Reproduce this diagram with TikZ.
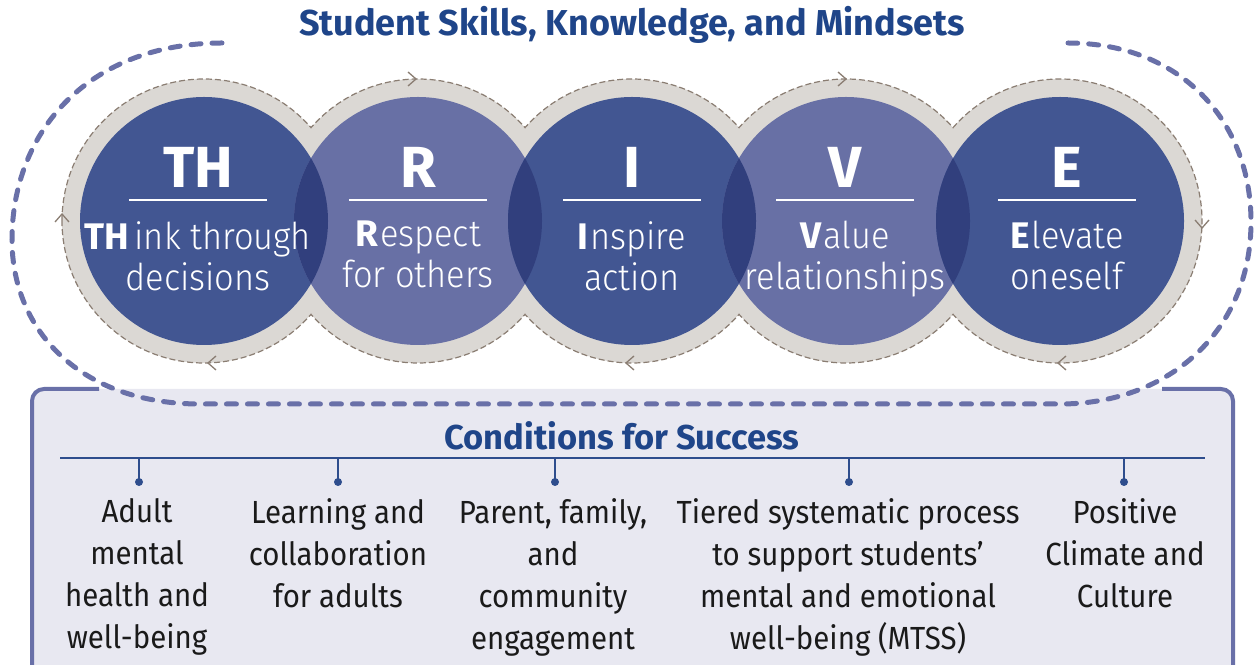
\documentclass[tikz,border=0pt]{standalone}
\usepackage{fontspec}
\setmainfont{Fira Sans}
\newfontfamily\lightf[FakeStretch=0.93]{Fira Sans Light}
\newfontfamily\condf[FakeStretch=0.92]{Fira Sans}
\definecolor{dk}{HTML}{425692}
\definecolor{lt}{HTML}{6870A5}
\definecolor{lensc}{HTML}{313F7D}
\definecolor{ringgray}{HTML}{DBD8D4}
\definecolor{ringdashc}{HTML}{8A7D72}
\definecolor{loopc}{HTML}{6970A8}
\definecolor{boxfillc}{HTML}{E8E8F1}
\definecolor{titlec}{HTML}{1F4589}
\definecolor{hlinec}{HTML}{2E4D8D}
\definecolor{txtc}{HTML}{1A1A1A}
\begin{document}
\begin{tikzpicture}[x=1pt,y=1pt,
  disk/.style={circle, inner sep=0pt, minimum size=248pt},
  ringline/.style={draw=ringdashc, line width=1.2pt, dash pattern=on 6pt off 3pt},
  chev/.style={draw=ringdashc, line width=1.3pt},
  loopline/.style={draw=loopc, line width=5pt, line cap=round, dash pattern=on 10pt off 11pt},
  boxline/.style={draw=loopc, line width=4pt},
  bigl/.style={text=white, font=\fontsize{58}{58}\selectfont\bfseries, inner sep=0pt},
  ctext/.style={text=white, font=\fontsize{37}{41}\lightf, align=center, inner sep=0pt},
  wline/.style={draw=white, line width=1.3pt},
  cond/.style={text=txtc, font=\fontsize{32}{42}\condf, align=center, inner sep=0pt, anchor=north},
  tick/.style={draw=hlinec, line width=1.5pt},
  dotc/.style={fill=hlinec}
]
\useasboundingbox (0,0) rectangle (1255,664);
\clip (0,0) rectangle (1255,664);

% bottom box
\fill[boxfillc, rounded corners=12pt] (32,275) rectangle (1233,-40);
\draw[boxline, rounded corners=12pt] (99,275) -- (32,275) -- (32,-40);
\draw[boxline, rounded corners=12pt] (1162,275) -- (1233,275) -- (1233,-40);

% big dashed loop
\draw[loopline] (222,621) .. controls (90,621) and (12,534) .. (12,424)
  .. controls (12,334) and (80,260) .. (200,260) -- (1060,260)
  .. controls (1170,260) and (1251,334) .. (1251,442)
  .. controls (1251,544) and (1180,621) .. (1068,621);

% gray rings
\foreach \x in {204,418,632,846,1060} \fill[ringgray] (\x,443) circle[radius=142];
\draw[ringline] (62,443) arc[start angle=180,end angle=41.1,radius=142]
  arc[start angle=138.9,end angle=41.1,radius=142]
  arc[start angle=138.9,end angle=41.1,radius=142]
  arc[start angle=138.9,end angle=41.1,radius=142]
  arc[start angle=138.9,end angle=-138.9,radius=142]
  arc[start angle=-41.1,end angle=-138.9,radius=142]
  arc[start angle=-41.1,end angle=-138.9,radius=142]
  arc[start angle=-41.1,end angle=-138.9,radius=142]
  arc[start angle=-41.1,end angle=-180,radius=142] -- cycle;

% chevrons on ring outline
\draw[chev] (408,592) -- (416,585) -- (408,578);
\draw[chev] (838,592) -- (846,585) -- (838,578);
\draw[chev] (216,308) -- (208,301) -- (216,294);
\draw[chev] (634,308) -- (626,301) -- (634,294);
\draw[chev] (1066,308) -- (1058,301) -- (1066,294);
\draw[chev] (55,442) -- (62,450) -- (69,442);
\draw[chev] (1195,444) -- (1202,436) -- (1209,444);

% disks
\node[disk, fill=dk] (cTH) at (204,443) {};
\node[disk, fill=lt] (cR) at (418,443) {};
\node[disk, fill=dk] (cI) at (632,443) {};
\node[disk, fill=lt] (cV) at (846,443) {};
\node[disk, fill=dk] (cE) at (1060,443) {};
\foreach \a/\b in {204/418,418/632,632/846,846/1060}{
  \begin{scope}
    \clip (\a,443) circle[radius=124];
    \fill[lensc] (\b,443) circle[radius=124];
  \end{scope}
}

% letters
\node[bigl, anchor=base] (lTH) at (198,476) {TH};
\node[bigl, anchor=base] (lR) at (418,476) {R};
\node[bigl, anchor=base] (lI) at (632,476) {I};
\node[bigl, anchor=base] (lV) at (845,476) {V};
\node[bigl, anchor=base] (lE) at (1067,476) {E};
\foreach \c in {198,418,632,845,1067} \draw[wline] (\c-69,464) -- (\c+69,464);

\node[ctext, anchor=north] (tTH) at (198,443) {{\fontspec{Fira Sans}\bfseries TH}\hspace{5pt}ink through\\decisions};
\node[ctext, anchor=north] (tR) at (418,443) {{\fontspec{Fira Sans}\bfseries R}\hspace{2pt}espect\\for others};
\node[ctext, anchor=north] (tI) at (632,443) {{\fontspec{Fira Sans}\bfseries I}\hspace{2pt}nspire\\action};
\node[ctext, anchor=north] (tV) at (845,443) {{\fontspec{Fira Sans}\bfseries V}\hspace{2pt}alue\\relationships};
\node[ctext, anchor=north] (tE) at (1067,443) {{\fontspec{Fira Sans}\bfseries E}\hspace{2pt}levate\\oneself};

% title
\node[text=titlec, font=\fontsize{36}{36}\selectfont\bfseries, anchor=base, inner sep=0pt] (title) at (632,628) {Student Skills, Knowledge, and Mindsets};

% conditions
\node[text=titlec, font=\fontsize{34.5}{34.5}\selectfont\bfseries, anchor=base, inner sep=0pt] (cond) at (622,214) {Conditions for Success};
\coordinate (hl) at (60,206);
\coordinate (hr) at (1205,206);
\draw[tick] (hl) -- (hr);
\foreach \x/\n in {139/a,338/b,555/c,849/d,1124/e}{
  \coordinate (t\n) at (\x,206);
  \coordinate (d\n) at (\x,182);
  \draw[tick] (t\n) -- (d\n);
  \fill[dotc] (d\n) circle[radius=4];
}
\node[cond] (c1) at (137,166) {Adult\\mental\\health and\\well-being};
\node[cond] (c2) at (338,166) {Learning and\\collaboration\\for adults};
\node[cond] (c3) at (553,166) {Parent, family,\\and\\community\\engagement};
\node[cond] (c4) at (848,166) {Tiered systematic process\\to support students’\\mental and emotional\\well-being (MTSS)};
\node[cond] (c5) at (1125,166) {Positive\\Climate and\\Culture};
\end{tikzpicture}
\end{document}
